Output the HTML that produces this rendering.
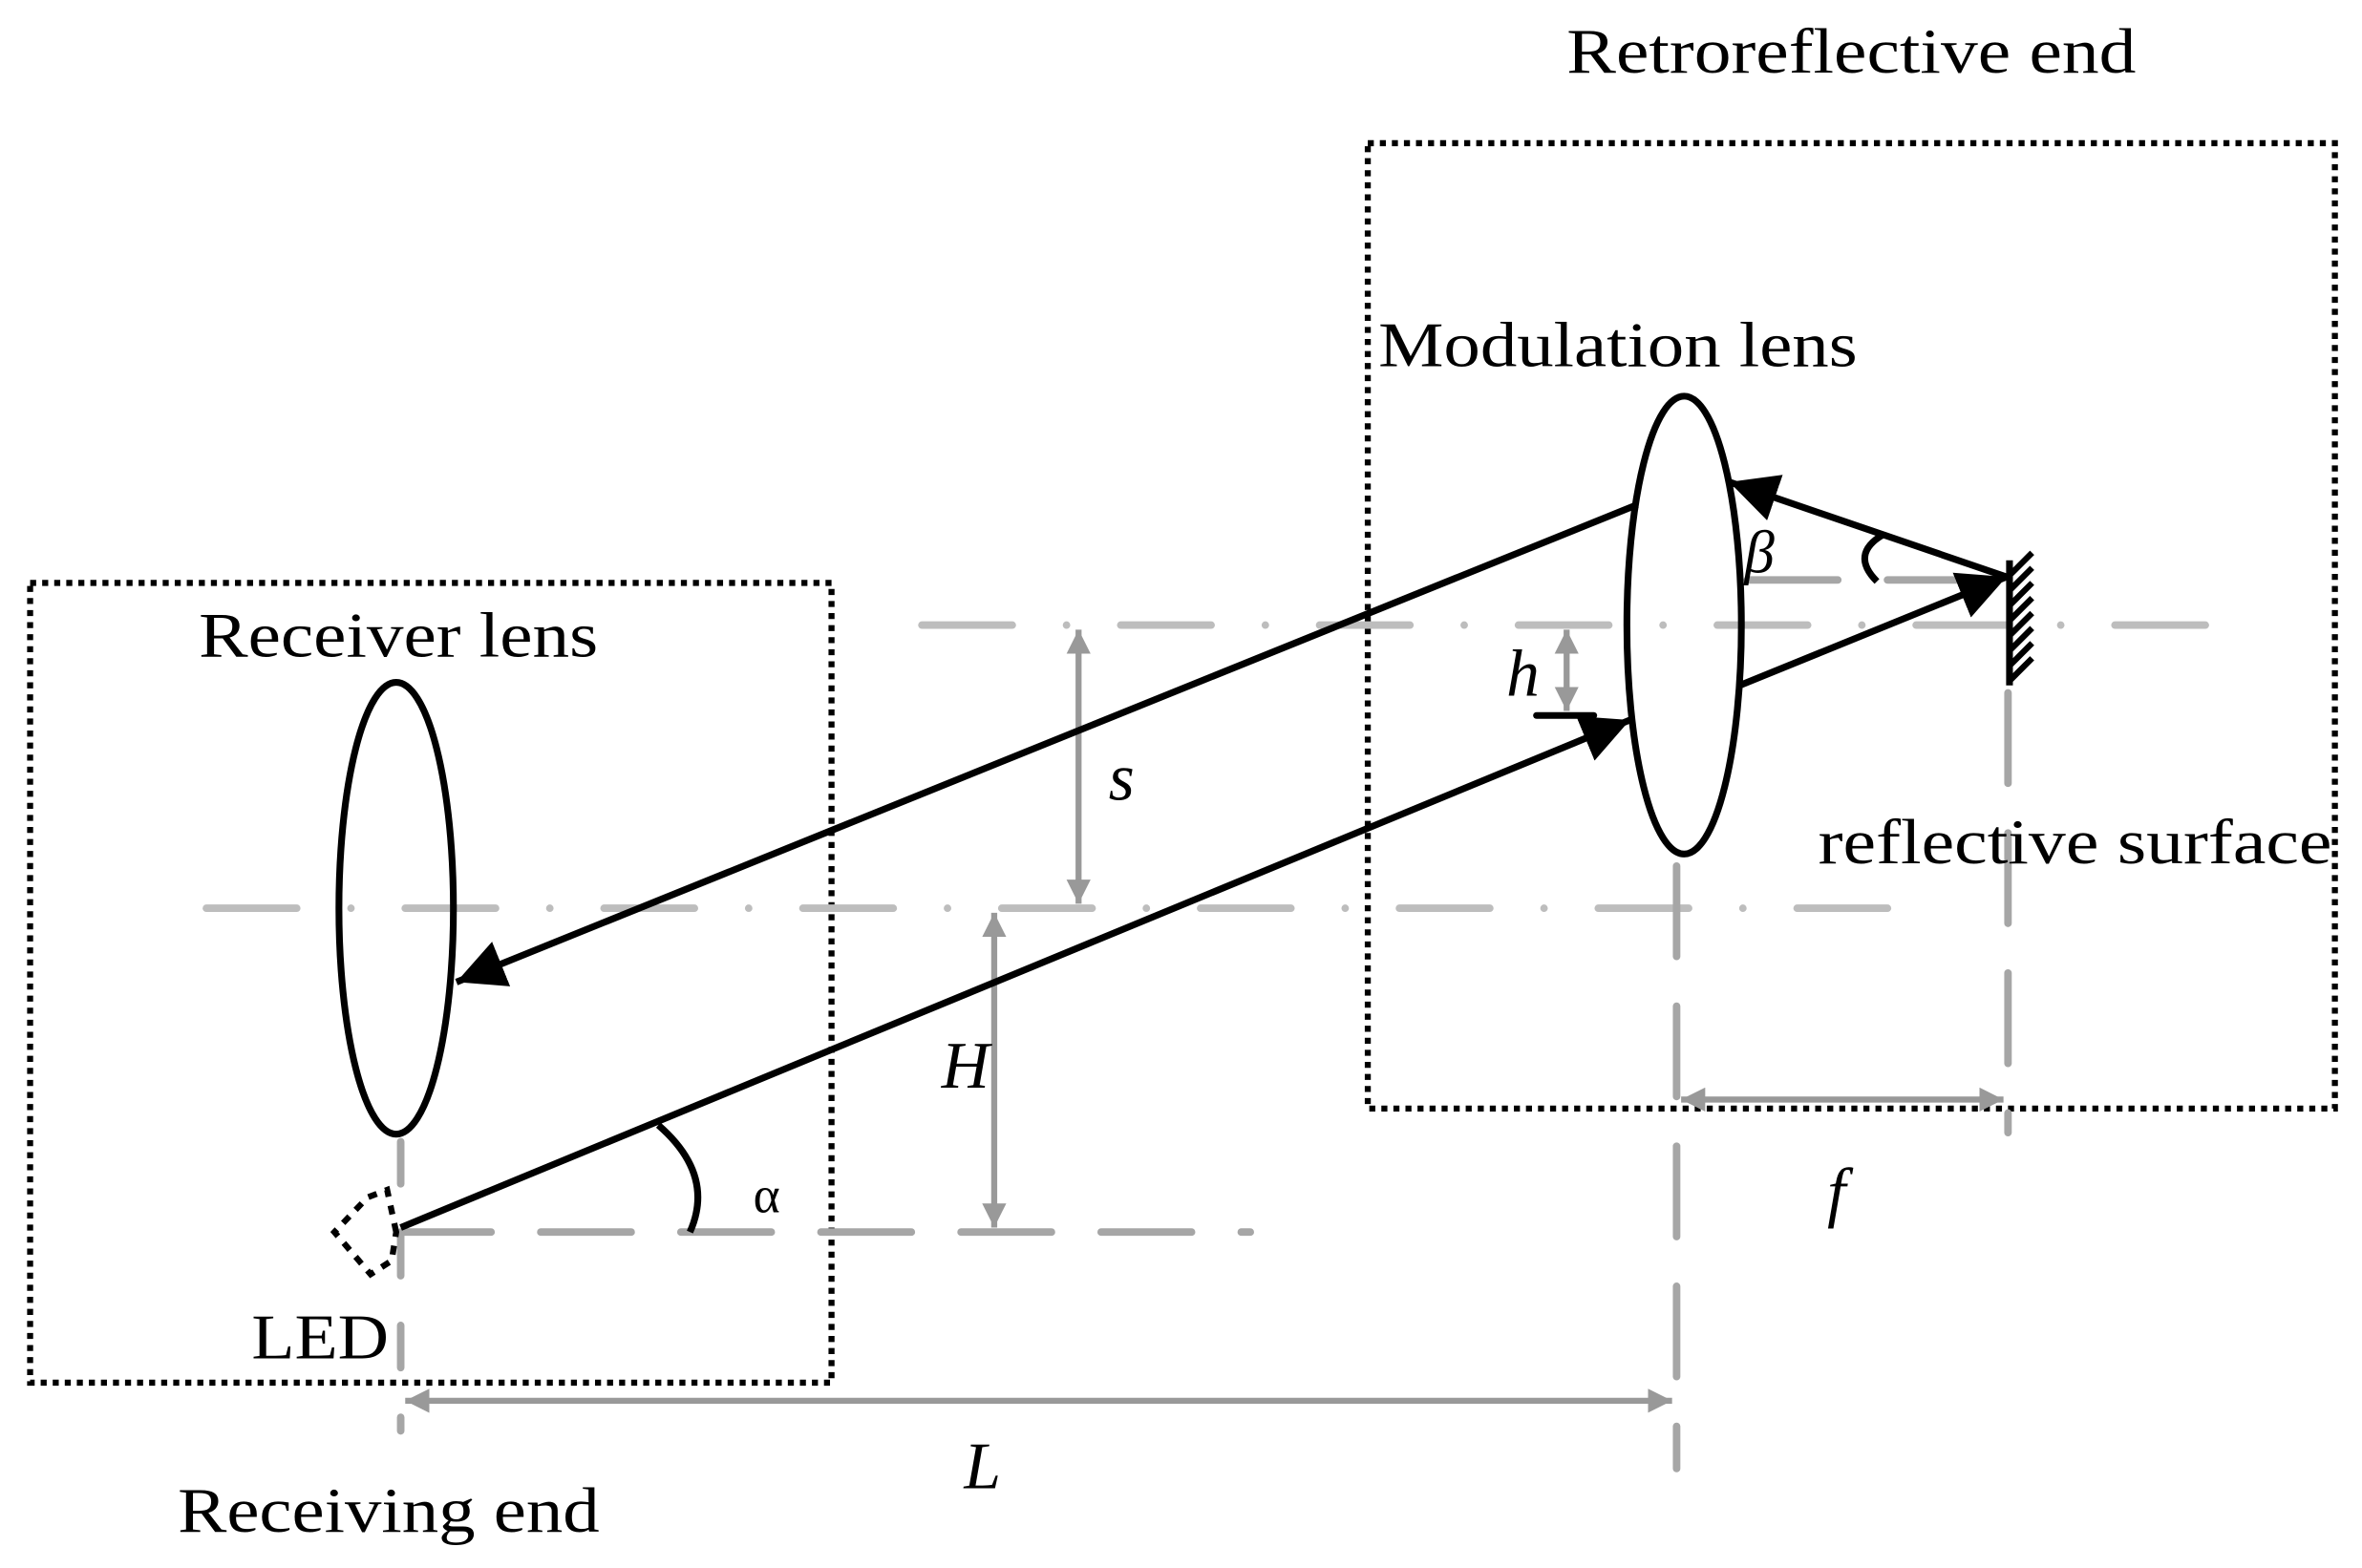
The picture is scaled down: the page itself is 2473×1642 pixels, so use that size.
<!DOCTYPE html>
<html><head><style>html,body{margin:0;padding:0;background:#fff}svg{display:block}</style></head>
<body>
<svg width="2473" height="1642" viewBox="0 0 1568 1041" xmlns="http://www.w3.org/2000/svg" font-family="Liberation Serif, serif">
<defs>
<marker id="bk" viewBox="0 0 10 10" refX="10" refY="5" markerWidth="32" markerHeight="32" orient="auto" markerUnits="userSpaceOnUse"><path d="M0,0 L10,5 L0,10 Z" fill="#000"/></marker>
<marker id="gr" viewBox="0 0 10 10" refX="10" refY="5" markerWidth="16" markerHeight="16" orient="auto-start-reverse" markerUnits="userSpaceOnUse"><path d="M0,0 L10,5 L0,10 Z" fill="#999"/></marker>
</defs>
<rect x="20" y="387" width="532" height="531" fill="none" stroke="#000" stroke-width="4" stroke-dasharray="4,4"/>
<rect x="908" y="95" width="642" height="641" fill="none" stroke="#000" stroke-width="4" stroke-dasharray="4,4"/>
<g stroke="#bdbdbd" stroke-width="5" stroke-linecap="round" fill="none">
<line x1="612" y1="415" x2="1495" y2="415" stroke-dasharray="60,36,0,36"/>
<line x1="137" y1="603" x2="1265" y2="603" stroke-dasharray="60,36,0,36"/>
</g>
<g stroke="#a6a6a6" stroke-width="5" stroke-linecap="round" fill="none">
<line x1="266" y1="818" x2="830" y2="818" stroke-dasharray="60,33"/>
<line x1="1160" y1="385" x2="1330" y2="385" stroke-dasharray="60,33"/>
<line x1="1333" y1="460" x2="1333" y2="752" stroke-dasharray="60,33"/>
<line x1="1113" y1="575" x2="1113" y2="975" stroke-dasharray="60,33"/>
<line x1="266" y1="758" x2="266" y2="950" stroke-dasharray="28,33"/>
</g>
<g stroke="#999" stroke-width="4" fill="none">
<line x1="1116" y1="730" x2="1330" y2="730" marker-start="url(#gr)" marker-end="url(#gr)"/>
<line x1="269" y1="930" x2="1110" y2="930" marker-start="url(#gr)" marker-end="url(#gr)"/>
<line x1="716" y1="418" x2="716" y2="600" marker-start="url(#gr)" marker-end="url(#gr)"/>
<line x1="660" y1="606" x2="660" y2="815" marker-start="url(#gr)" marker-end="url(#gr)"/>
<line x1="1040" y1="418" x2="1040" y2="472" marker-start="url(#gr)" marker-end="url(#gr)"/>
</g>
<ellipse cx="263" cy="603" rx="38" ry="150" fill="none" stroke="#000" stroke-width="4.5"/>
<ellipse cx="1118" cy="415" rx="38" ry="152" fill="none" stroke="#000" stroke-width="4.5"/>
<g stroke="#000" stroke-width="4.5" fill="none">
<line x1="266" y1="815" x2="1082" y2="478" marker-end="url(#bk)"/>
<line x1="1087" y1="335" x2="303" y2="652" marker-end="url(#bk)"/>
<line x1="1155" y1="455" x2="1332" y2="383" marker-end="url(#bk)"/>
<line x1="1332" y1="383" x2="1148" y2="320" marker-end="url(#bk)"/>
<line x1="1020" y1="475" x2="1058" y2="475" stroke-linecap="round"/>
<path d="M437,747 Q475,780 458,818"/>
<path d="M1250,355 Q1228,368 1246,386"/>
<path d="M263,818 L257,790 L244,795 L222,818 L246,846 L260,837 Z" stroke-dasharray="6,6" stroke-width="4"/>
</g>
<line x1="1334" y1="372" x2="1334" y2="455" stroke="#000" stroke-width="4.5"/>
<g stroke="#000" stroke-width="4">
<line x1="1334" y1="382" x2="1349" y2="367"/><line x1="1334" y1="392" x2="1349" y2="377"/>
<line x1="1334" y1="402" x2="1349" y2="387"/><line x1="1334" y1="412" x2="1349" y2="397"/>
<line x1="1334" y1="422" x2="1349" y2="407"/><line x1="1334" y1="432" x2="1349" y2="417"/>
<line x1="1334" y1="442" x2="1349" y2="427"/><line x1="1334" y1="452" x2="1349" y2="437"/>
</g>
<g font-size="42" fill="#000">
<text x="1040" y="48" textLength="378" lengthAdjust="spacingAndGlyphs">Retroreflective end</text>
<text x="915" y="243" textLength="318" lengthAdjust="spacingAndGlyphs">Modulation lens</text>
<text x="132" y="436" textLength="265" lengthAdjust="spacingAndGlyphs">Receiver lens</text>
<text x="1207" y="573" textLength="341" lengthAdjust="spacingAndGlyphs">reflective surface</text>
<text x="167" y="902" textLength="91" lengthAdjust="spacingAndGlyphs">LED</text>
<text x="118" y="1017" textLength="280" lengthAdjust="spacingAndGlyphs">Receiving end</text>
<text x="500" y="805" font-size="34">α</text>
</g>
<g font-size="44" font-style="italic" fill="#000">
<text x="736" y="531">s</text>
<text x="625" y="722">H</text>
<text x="1000" y="462">h</text>
<text x="1213" y="806">f</text>
<text x="640" y="988">L</text>
<text x="1158" y="380" font-size="40">β</text>
</g>
</svg>
</body></html>
